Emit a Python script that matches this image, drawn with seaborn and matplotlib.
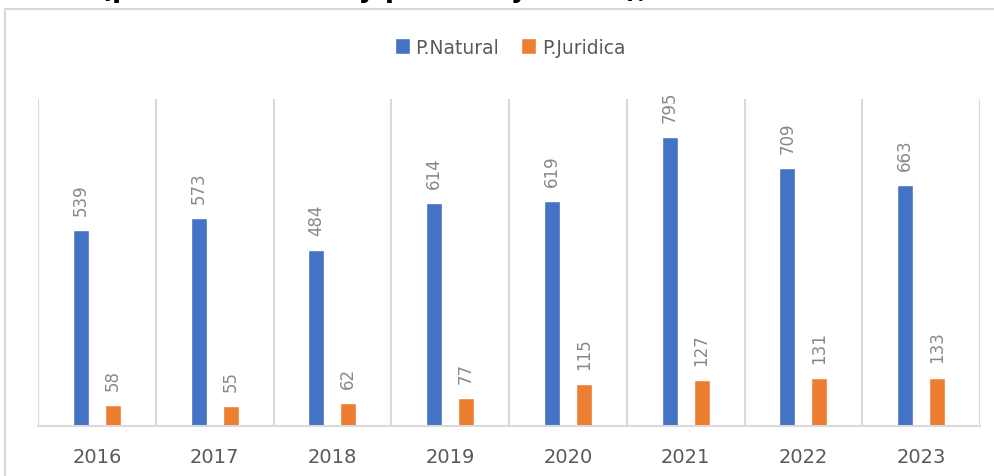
import pandas as pd
import matplotlib
matplotlib.use("Agg")
import matplotlib.pyplot as plt
from matplotlib.lines import Line2D
import seaborn as sns

# datos
years = ["2016", "2017", "2018", "2019", "2020", "2021", "2022", "2023"]
natural = [539, 573, 484, 614, 619, 795, 709, 663]
juridica = [58, 55, 62, 77, 115, 127, 131, 133]
series_names = ["P.Natural", "P.Juridica"]
title_line = "(persona natural y persona jurídica), 2016-2023"

df = pd.DataFrame({
    "Año": years * 2,
    "Valor": natural + juridica,
    "Tipo": [series_names[0]] * len(years) + [series_names[1]] * len(years),
})

sns.set_theme(style="white")
plt.rcParams["font.family"] = ["DejaVu Sans"]

fig = plt.figure(figsize=(9.94, 4.77), dpi=100)
ax = fig.add_axes([38 / 994, 50 / 477, 942 / 994, 327 / 477])

sns.barplot(data=df, x="Año", y="Valor", hue="Tipo", order=years,
            hue_order=series_names, palette=["#4472C4", "#ED7D31"],
            width=0.543, gap=0.5, saturation=1, ax=ax, legend=True)

for cont in ax.containers:
    ax.bar_label(cont, rotation=90, padding=11, fontsize=12, color="#888888")

ax.set_xlim(-0.5, len(years) - 0.5)
ax.set_ylim(0, 900)
ax.set_yticks([])
ax.set_xlabel("")
ax.set_ylabel("")
for b in range(len(years) + 1):
    ax.axvline(b - 0.5, color="#D9D9D9", lw=1.5, zorder=0)
for side in ["top", "right", "left"]:
    ax.spines[side].set_visible(False)
ax.spines["bottom"].set_color("#D9D9D9")
ax.spines["bottom"].set_linewidth(1.5)
ax.tick_params(axis="x", length=0, pad=15, labelsize=14, labelcolor="#595959")

leg = ax.legend(loc="center", bbox_to_anchor=(510 / 994, 1 - 48 / 477),
                bbox_transform=fig.transFigure, ncol=2, frameon=False,
                fontsize=13.5, handlelength=0.8, handleheight=1.0,
                handletextpad=0.3, columnspacing=1.2)
for t in leg.get_texts():
    t.set_color("#595959")

# marco del grafico y titulo recortado
fig.add_artist(Line2D([5 / 994, 1], [1 - 10 / 477] * 2, color="#D9D9D9", lw=1.5))
fig.add_artist(Line2D([5 / 994] * 2, [0, 1 - 10 / 477], color="#D9D9D9", lw=1.5))
fig.text(457 / 994, 1 + 3 / 477, title_line, ha="center", va="baseline",
         fontsize=19, fontweight="bold", color="black")

fig.savefig("out.png", dpi=100)
